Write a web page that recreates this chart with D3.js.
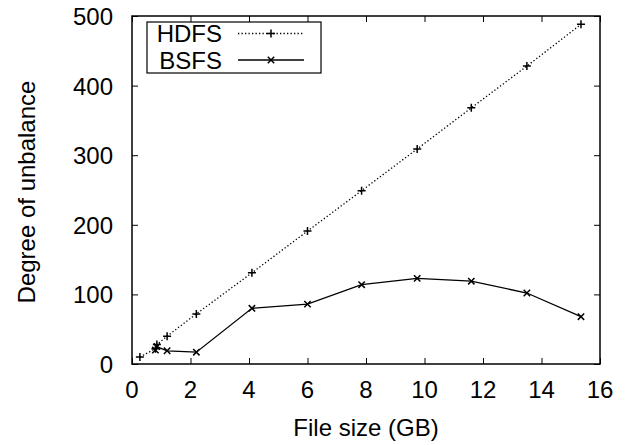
<!DOCTYPE html>
<html>
<head>
<meta charset="utf-8">
<script src="https://cdn.jsdelivr.net/npm/d3@7"></script>
<style>
  body { margin: 0; background: #fff; }
  text { font-family: "Liberation Sans", Arial, sans-serif; fill: #000; }
</style>
</head>
<body>
<div id="chart"></div>
<script>
// data
var hdfsX = [0.27, 0.8, 0.85, 1.2, 2.2, 4.1, 6.0, 7.85, 9.75, 11.6, 13.5, 15.35];
var hdfsY = [10, 22, 28, 40, 72, 131, 191, 249, 309, 368, 428, 488];
var bsfsX = [0.8, 0.85, 1.2, 2.2, 4.1, 6.0, 7.85, 9.75, 11.6, 13.5, 15.35];
var bsfsY = [20, 25, 19, 17, 80, 86, 114, 123, 119, 102, 68];
var xTicks = [0, 2, 4, 6, 8, 10, 12, 14, 16];
var yTicks = [0, 100, 200, 300, 400, 500];
var seriesNames = ["HDFS", "BSFS"];

var width = 631, height = 445;
var margin = {top: 16, left: 132, right: 31, bottom: 81};
var fs = "24px";

var svg = d3.select("#chart").append("svg")
    .attr("width", width)
    .attr("height", height);

var xScale = d3.scaleLinear().domain([0, 16]).range([margin.left, width - margin.right]);
var yScale = d3.scaleLinear().domain([0, 500]).range([height - margin.bottom, margin.top]);

var hdfs = hdfsX.map(function(d, i) { return {x: d, y: hdfsY[i]}; });
var bsfs = bsfsX.map(function(d, i) { return {x: d, y: bsfsY[i]}; });

// ticks (inward, mirrored on all four sides)
var tl = 6;
function styleAxis(g) {
  g.select(".domain").remove();
  g.selectAll(".tick line").attr("stroke", "#000").attr("stroke-width", 1);
  g.selectAll(".tick text").remove();
}
svg.append("g").attr("transform", "translate(0," + yScale(0) + ")")
  .call(d3.axisTop(xScale).tickValues(xTicks).tickSize(tl)).call(styleAxis);
svg.append("g").attr("transform", "translate(0," + yScale(500) + ")")
  .call(d3.axisBottom(xScale).tickValues(xTicks).tickSize(tl)).call(styleAxis);
svg.append("g").attr("transform", "translate(" + xScale(0) + ",0)")
  .call(d3.axisRight(yScale).tickValues(yTicks).tickSize(tl)).call(styleAxis);
svg.append("g").attr("transform", "translate(" + xScale(16) + ",0)")
  .call(d3.axisLeft(yScale).tickValues(yTicks).tickSize(tl)).call(styleAxis);

// tick labels
svg.selectAll(".xlab").data(xTicks).enter().append("text")
  .attr("x", function(d) { return xScale(d); })
  .attr("y", yScale(0) + 34)
  .attr("text-anchor", "middle")
  .style("font-size", fs)
  .text(function(d) { return d; });

svg.selectAll(".ylab").data(yTicks).enter().append("text")
  .attr("x", xScale(0) - 19)
  .attr("y", function(d) { return yScale(d) + 9; })
  .attr("text-anchor", "end")
  .style("font-size", fs)
  .text(function(d) { return d; });

// axis titles
svg.append("text")
  .attr("x", (xScale(0) + xScale(16)) / 2)
  .attr("y", 436)
  .attr("text-anchor", "middle")
  .style("font-size", fs)
  .text("File size (GB)");

svg.append("text")
  .attr("transform", "translate(35,192) rotate(-90)")
  .attr("text-anchor", "middle")
  .style("font-size", fs)
  .text("Degree of unbalance");

// lines
var line = d3.line().x(function(d) { return xScale(d.x); }).y(function(d) { return yScale(d.y); });

svg.append("path").datum(hdfs)
  .attr("d", line)
  .attr("fill", "none").attr("stroke", "#000")
  .attr("stroke-width", 1.3)
  .attr("stroke-dasharray", "1.3,2.2");

svg.append("path").datum(bsfs)
  .attr("d", line)
  .attr("fill", "none").attr("stroke", "#000")
  .attr("stroke-width", 1.3);

// markers
var ms = 4;
function plus(g, px, py) {
  g.append("path").attr("d", "M" + (px - ms) + "," + py + "H" + (px + ms) + "M" + px + "," + (py - ms) + "V" + (py + ms))
    .attr("stroke", "#000").attr("stroke-width", 1.5);
}
function cross(g, px, py) {
  var s = ms * 0.8;
  g.append("path").attr("d", "M" + (px - s) + "," + (py - s) + "L" + (px + s) + "," + (py + s) + "M" + (px - s) + "," + (py + s) + "L" + (px + s) + "," + (py - s))
    .attr("stroke", "#000").attr("stroke-width", 1.5);
}
var mk = svg.append("g");
hdfs.forEach(function(d) { plus(mk, xScale(d.x), yScale(d.y)); });
bsfs.forEach(function(d) { cross(mk, xScale(d.x), yScale(d.y)); });

// frame
svg.append("rect")
  .attr("x", xScale(0)).attr("y", yScale(500))
  .attr("width", xScale(16) - xScale(0)).attr("height", yScale(0) - yScale(500))
  .attr("fill", "none").attr("stroke", "#000").attr("stroke-width", 1.5);

// legend
var legend = svg.append("g");
legend.append("rect")
  .attr("x", 147).attr("y", 22).attr("width", 174).attr("height", 51)
  .attr("fill", "#fff").attr("stroke", "#000").attr("stroke-width", 1.2);

seriesNames.forEach(function(name, i) {
  var cy = 33.5 + i * 26.5;
  legend.append("text")
    .attr("x", 222).attr("y", cy + 8.5)
    .attr("text-anchor", "end")
    .style("font-size", fs)
    .text(name);
  var p = legend.append("path")
    .attr("d", "M238," + cy + "H304")
    .attr("stroke", "#000").attr("stroke-width", 1.3).attr("fill", "none");
  if (i === 0) {
    p.attr("stroke-dasharray", "1.3,2.2");
    plus(legend, 271, cy);
  } else {
    cross(legend, 271, cy);
  }
});
</script>
</body>
</html>
